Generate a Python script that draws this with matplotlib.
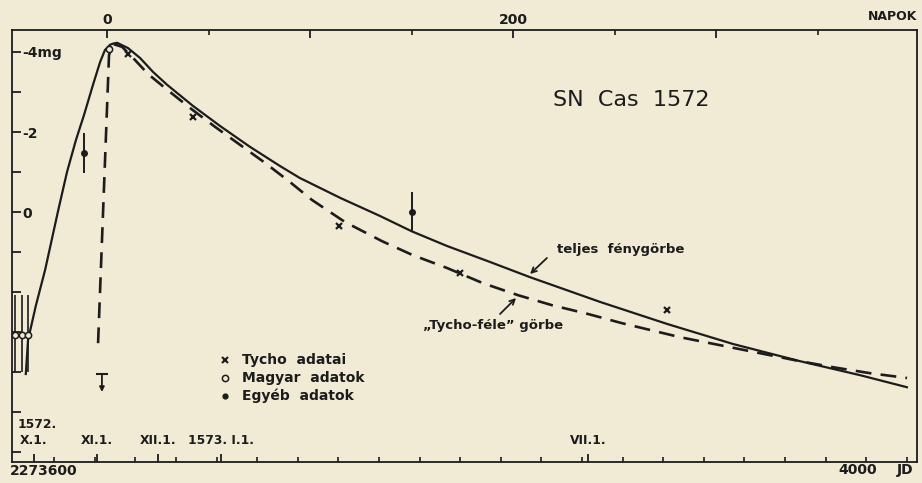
import numpy as np
import matplotlib
matplotlib.use('Agg')
import matplotlib.pyplot as plt
from matplotlib.ticker import FixedLocator, FixedFormatter, NullFormatter

# ─── Adatok: napok a maximum óta, látszó fényesség (mg) ─────────────────────

JD0 = 2273626  # a "0" nap Julián-dátuma

# teljes fénygörbe
SOLID_DAYS = [-40, -39.4, -38.9, -35, -30.5, -24, -19.7, -15.3, -11.3, -6.9,
              -3.4, -1, 1.5, 3, 5, 10.3, 16.3, 22.7, 29.6, 42.4, 55.7, 70.4,
              85.2, 95, 115, 134.5, 150, 167.5, 188.7, 208.4, 243, 276, 308.4,
              341.4, 371, 394]
SOLID_MAG = [4.05, 3.58, 3.2, 2.33, 1.45, -0.05, -1.0, -1.8, -2.43, -3.18,
             -3.75, -4.05, -4.18, -4.21, -4.23, -4.1, -3.85, -3.5, -3.18, -2.65,
             -2.15, -1.63, -1.15, -0.85, -0.35, 0.1, 0.48, 0.85, 1.25, 1.63,
             2.25, 2.8, 3.3, 3.73, 4.08, 4.38]

# "Tycho-féle" görbe
DASH_DAYS = [-4.4, 1.0, 3.0, 7.4, 13.8, 20.2, 28.6, 40.9, 53.2, 65.5, 77.8,
             90.1, 101, 117.2, 135.5, 150.7, 167.5, 185.2, 202.5, 219.2, 237,
             253.7, 282.3, 302, 321.7, 341.4, 357.6, 375.9, 394.1]
DASH_MAG = [3.28, -3.93, -4.2, -4.13, -3.8, -3.45, -3.1, -2.6, -2.13, -1.68,
            -1.23, -0.75, -0.3, 0.25, 0.73, 1.08, 1.4, 1.78, 2.08, 2.33, 2.55,
            2.78, 3.13, 3.33, 3.53, 3.73, 3.88, 4.03, 4.15]

TYCHO_DAYS = [10.3, 42.4, 114.3, 173.9, 275.9]
TYCHO_MAG = [-3.95, -2.38, 0.35, 1.53, 2.45]

MAGYAR_DAYS = [1.0, -45.3, -41.8, -38.9]
MAGYAR_MAG = [-4.08, 3.08, 3.08, 3.08]
MAGYAR_ERR_LO = [0, 1.0, 1.0, 1.0]
MAGYAR_ERR_HI = [0, 0.92, 0.92, 0.92]

EGYEB_DAYS = [-11.3, 150.2]
EGYEB_MAG = [-1.48, 0.0]
EGYEB_ERR = [0.5, 0.5]

LIMIT_DAY = -2.5
LIMIT_MAG = 4.05

MAG_TICKS = list(range(-4, 7))
MAG_LABELS = ['-4mg', '', '-2', '', '0', '', '', '', '', '', '']
NAP_MAJOR = [0, 100, 200, 300]
NAP_LABELS = ['0', '', '200', '']
NAP_MINOR = [50, 150, 250, 350]
MONTH_DAYS = [-36, -5, 25, 56, 237]
MONTH_LABELS = ['X.1.', 'XI.1.', 'XII.1.', '1573. I.1.', 'VII.1.']
JD_TICKS = np.arange(2273600, 2274041, 20)

LEGEND_LABELS = ['Tycho  adatai', 'Magyar  adatok', 'Egyéb  adatok']

# ─── Stílus ──────────────────────────────────────────────────────────────────

BG = '#f1ebd6'
INK = '#1c1c1c'
plt.rcParams['font.family'] = 'DejaVu Sans'
plt.rcParams['font.weight'] = 'bold'
plt.rcParams['text.color'] = INK

W, H = 922, 483
fig = plt.figure(figsize=(W / 100, H / 100), dpi=100, facecolor=BG)
ax = fig.add_axes([12 / W, 21 / H, 905 / W, 432 / H])
ax.set_facecolor(BG)
ax.set_xlim(-46.8, 399)
ax.set_ylim(6.25, -4.55)

axb = ax.twiny()   # alsó JD-skála
axb.set_xlim(ax.get_xlim())

for sp in ax.spines.values():
    sp.set_linewidth(1.3)
    sp.set_color(INK)
for sp in axb.spines.values():
    sp.set_visible(False)

# görbék
ax.plot(SOLID_DAYS, SOLID_MAG, color=INK, lw=1.6, solid_joinstyle='round')
ax.plot(DASH_DAYS, DASH_MAG, color=INK, lw=1.9, ls=(0, (6, 3.5)))

# adatpontok
ax.plot(TYCHO_DAYS, TYCHO_MAG, 'x', color=INK, ms=5, mew=1.6)
ax.errorbar(MAGYAR_DAYS, MAGYAR_MAG, yerr=[MAGYAR_ERR_LO, MAGYAR_ERR_HI],
            fmt='o', ms=4.5, mfc=BG, mec=INK, mew=1.1, ecolor=INK,
            elinewidth=1.2, capsize=0, zorder=4)
ax.errorbar(EGYEB_DAYS, EGYEB_MAG, yerr=EGYEB_ERR, fmt='o', ms=4, mfc=INK,
            mec=INK, ecolor=INK, elinewidth=1.4, capsize=0, zorder=4)
ax.plot(LIMIT_DAY, LIMIT_MAG, marker='_', ms=8, mew=1.5, color=INK)
ax.annotate('', xy=(LIMIT_DAY, LIMIT_MAG + 0.45), xytext=(LIMIT_DAY, LIMIT_MAG),
            arrowprops=dict(arrowstyle='-|>', color=INK, lw=1.3,
                            mutation_scale=7, shrinkA=0, shrinkB=0))

# tengelyek
ax.xaxis.set_ticks_position('top')
ax.xaxis.set_major_locator(FixedLocator(NAP_MAJOR))
ax.xaxis.set_major_formatter(FixedFormatter(NAP_LABELS))
ax.xaxis.set_minor_locator(FixedLocator(NAP_MINOR))
ax.tick_params(axis='x', which='major', direction='in', length=6, width=1.3,
               pad=2, labelsize=10, colors=INK)
ax.tick_params(axis='x', which='minor', direction='in', length=3.5, width=1.2,
               colors=INK)

ax.yaxis.set_ticks_position('left')
ax.yaxis.set_major_locator(FixedLocator(MAG_TICKS))
ax.yaxis.set_major_formatter(FixedFormatter(MAG_LABELS))
ax.tick_params(axis='y', direction='in', length=6.5, width=1.3, pad=-7.5,
               labelsize=10, colors=INK)
for lab in ax.get_yticklabels():
    lab.set_horizontalalignment('left')

axb.xaxis.set_ticks_position('bottom')
axb.xaxis.set_major_locator(FixedLocator(MONTH_DAYS))
axb.xaxis.set_minor_locator(FixedLocator(JD_TICKS - JD0))
axb.xaxis.set_major_formatter(NullFormatter())
axb.xaxis.set_minor_formatter(NullFormatter())
axb.tick_params(axis='x', which='major', direction='in', length=6, width=1.3,
                colors=INK)
axb.tick_params(axis='x', which='minor', direction='in', length=3.5, width=1.2,
                colors=INK)

# hónapok feliratai
xt = ax.get_xaxis_transform()
for d, lab in zip(MONTH_DAYS, MONTH_LABELS):
    ax.text(d, 0.05, lab, transform=xt, ha='center', va='center', fontsize=8.8)
ax.text(-44.3, 0.086, '1572.', transform=xt, ha='left', va='center',
        fontsize=8.8)

fig.text(10 / W, 1 - 471 / H, '2273600', ha='left', va='center', fontsize=10)
fig.text(858 / W, 1 - 470 / H, '4000', ha='center', va='center', fontsize=10)
fig.text(905 / W, 1 - 470 / H, 'JD', ha='center', va='center', fontsize=10)
fig.text(917 / W, 1 - 17 / H, 'NAPOK', ha='right', va='center', fontsize=9)

# feliratok
ax.text(219.7, -2.8, 'SN  Cas  1572', ha='left', va='center', fontsize=16,
        fontweight='normal')
ax.text(221.7, 0.95, 'teljes  fénygörbe', ha='left', va='center', fontsize=9.5)
ax.annotate('', xy=(208.4, 1.55), xytext=(216.7, 1.15),
            arrowprops=dict(arrowstyle='->', color=INK, lw=1.3,
                            mutation_scale=9, shrinkA=0, shrinkB=0))
ax.text(155.7, 2.85, '\u201eTycho-féle\u201d görbe', ha='left', va='center',
        fontsize=9.5)
ax.annotate('', xy=(201.5, 2.15), xytext=(193.6, 2.55),
            arrowprops=dict(arrowstyle='->', color=INK, lw=1.3,
                            mutation_scale=9, shrinkA=0, shrinkB=0))

# jelmagyarázat
LEG_MARKERS = [dict(marker='x', ms=4.5, mew=1.5, color=INK),
               dict(marker='o', ms=4.5, mfc=BG, mec=INK, mew=1.1),
               dict(marker='o', ms=3.5, mfc=INK, mec=INK)]
for i, (lab, mk) in enumerate(zip(LEGEND_LABELS, LEG_MARKERS)):
    m = 3.7 + 0.45 * i
    ax.plot(58.1, m, ls='none', **mk)
    ax.text(66.5, m, lab, ha='left', va='center', fontsize=10)

fig.savefig('out.png', dpi=100, facecolor=BG)
